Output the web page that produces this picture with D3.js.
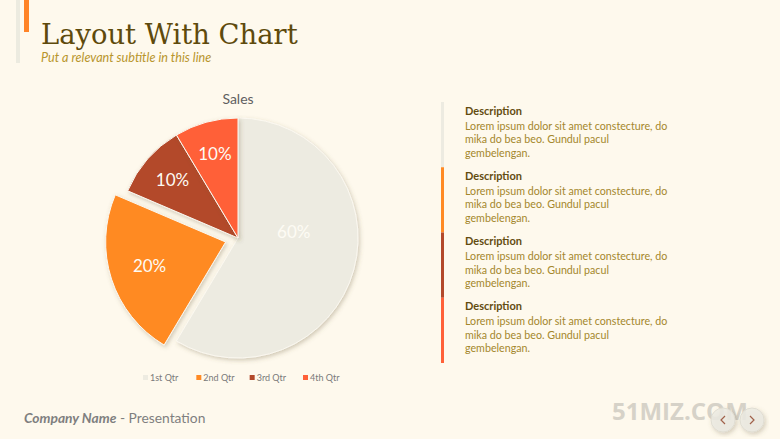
<!DOCTYPE html>
<html>
<head>
<meta charset="utf-8">
<script src="https://cdn.jsdelivr.net/npm/d3@7"></script>
<style>
  html, body { margin: 0; padding: 0; background: #fef9ed; }
  svg { display: block; }
</style>
</head>
<body>
<svg width="780" height="439"></svg>
<script>
const width = 780, height = 439;

const quarters = ["1st Qtr", "2nd Qtr", "3rd Qtr", "4th Qtr"];
const sales = [8.2, 3.2, 1.4, 1.2];
const salesLabels = ["60%", "20%", "10%", "10%"];
const sliceColors = ["#edebe1", "#ff8a24", "#b3492a", "#ff6139"];
const explodedQuarter = "2nd Qtr";

const descTitles = ["Description", "Description", "Description", "Description"];
const descLines = [
    "Lorem ipsum dolor sit amet constecture, do",
    "mika do bea beo. Gundul pacul",
    "gembelengan."
];

const svg = d3.select("svg");

svg.append("rect")
    .attr("width", width)
    .attr("height", height)
    .attr("fill", "#fef9ed");

const defs = svg.append("defs");
const shadow = defs.append("filter")
    .attr("id", "shadow")
    .attr("x", "-20%").attr("y", "-20%")
    .attr("width", "140%").attr("height", "140%");
shadow.append("feDropShadow")
    .attr("dx", 1.5)
    .attr("dy", 2)
    .attr("stdDeviation", 2)
    .attr("flood-color", "#6b5a3a")
    .attr("flood-opacity", 0.3);

// header accent bars
svg.append("rect").attr("x", 16).attr("y", 0).attr("width", 4).attr("height", 63).attr("fill", "#ecebe0");
svg.append("rect").attr("x", 24).attr("y", 0).attr("width", 5).attr("height", 32).attr("fill", "#ff8427");

svg.append("text")
    .attr("x", 41)
    .attr("y", 44)
    .attr("font-family", "'DejaVu Serif', serif")
    .attr("font-size", "27.4px")
    .attr("fill", "#5e4a0c")
    .text("Layout With Chart");

svg.append("text")
    .attr("x", 41)
    .attr("y", 62)
    .attr("font-family", "Lato, 'Open Sans', sans-serif")
    .attr("font-style", "italic")
    .attr("font-size", "12.6px")
    .attr("fill", "#b8952c")
    .text("Put a relevant subtitle in this line");

// chart
const cx = 238, cy = 238, radius = 120;

svg.append("text")
    .attr("x", cx)
    .attr("y", 104)
    .attr("text-anchor", "middle")
    .attr("font-family", "Lato, 'Open Sans', sans-serif")
    .attr("font-size", "14px")
    .attr("fill", "#5f5f5f")
    .text("Sales");

const pieData = d3.pie().sort(null).value(d => d.value)(
    quarters.map((q, i) => ({ name: q, value: sales[i], label: salesLabels[i], color: sliceColors[i] }))
);

const arc = d3.arc().innerRadius(0).outerRadius(radius);
const pieGroup = svg.append("g")
    .attr("transform", `translate(${cx},${cy})`);

const explode = 13;
function offset(d) {
    if (d.data.name !== explodedQuarter) return [0, 0];
    const a = (d.startAngle + d.endAngle) / 2;
    return [Math.sin(a) * explode, -Math.cos(a) * explode];
}

const slices = pieGroup.selectAll("g.slice")
    .data(pieData)
    .join("g")
    .attr("class", "slice")
    .attr("transform", d => `translate(${offset(d)})`);

slices.append("path")
    .attr("d", arc)
    .attr("fill", d => d.data.color)
    .attr("stroke", "#fbf8f0")
    .attr("stroke-width", 1)
    .attr("filter", "url(#shadow)");

slices.append("text")
    .attr("transform", d => {
        const span = d.endAngle - d.startAngle;
        const big = span > Math.PI;
        const a = big ? d.startAngle + span * 0.4 : (d.startAngle + d.endAngle) / 2;
        const r = big ? 56 : (d.data.name === explodedQuarter ? 80 : 87);
        return `translate(${Math.sin(a) * r},${-Math.cos(a) * r - 1})`;
    })
    .attr("text-anchor", "middle")
    .attr("dominant-baseline", "central")
    .attr("font-family", "Lato, 'Open Sans', sans-serif")
    .attr("font-size", "17px")
    .attr("fill", "#fdfbf4")
    .text(d => d.data.label);

// legend
const legendX = d3.scalePoint().domain(quarters).range([143, 303]);
const legend = svg.append("g").selectAll("g")
    .data(quarters.map((q, i) => ({ name: q, color: sliceColors[i] })))
    .join("g")
    .attr("transform", d => `translate(${legendX(d.name)},381)`);
legend.append("rect")
    .attr("x", 0).attr("y", -6)
    .attr("width", 5).attr("height", 5)
    .attr("fill", d => d.color);
legend.append("text")
    .attr("x", 7)
    .attr("y", 0)
    .attr("font-family", "Lato, 'Open Sans', sans-serif")
    .attr("font-size", "9px")
    .attr("fill", "#7a7a7a")
    .text(d => d.name);

// description blocks
const blockY = d3.scaleBand().domain(d3.range(descTitles.length)).range([102, 363]);
const blocks = svg.append("g").selectAll("g")
    .data(descTitles.map((t, i) => ({ title: t, color: sliceColors[i], i })))
    .join("g")
    .attr("transform", d => `translate(0,${blockY(d.i)})`);

blocks.append("rect")
    .attr("x", 441)
    .attr("y", 0)
    .attr("width", 3)
    .attr("height", blockY.bandwidth())
    .attr("fill", d => d.color);

blocks.append("text")
    .attr("x", 465)
    .attr("y", 12.5)
    .attr("font-family", "Lato, 'Open Sans', sans-serif")
    .attr("font-weight", "bold")
    .attr("font-size", "11px")
    .attr("fill", "#634c10")
    .text(d => d.title);

blocks.each(function() {
    d3.select(this).selectAll("text.line")
        .data(descLines)
        .join("text")
        .attr("class", "line")
        .attr("x", 465)
        .attr("y", (d, j) => 27.5 + j * 13.5)
        .attr("font-family", "Lato, 'Open Sans', sans-serif")
        .attr("font-size", "10.7px")
        .attr("fill", "#a4872c")
        .text(d => d);
});

// footer
const footer = svg.append("text")
    .attr("x", 24)
    .attr("y", 423)
    .attr("font-family", "Lato, 'Open Sans', sans-serif")
    .attr("font-size", "13.8px")
    .attr("fill", "#7f7f7f");
footer.append("tspan")
    .attr("font-weight", "bold")
    .attr("font-style", "italic")
    .text("Company Name");
footer.append("tspan").text(" - Presentation");

svg.append("text")
    .attr("x", 612)
    .attr("y", 420)
    .attr("font-family", "'Open Sans', Lato, sans-serif")
    .attr("font-weight", "bold")
    .attr("font-size", "24px")
    .attr("fill", "#d6d2c8")
    .text("51MIZ.COM");

const navs = [{ x: 723, dir: -1 }, { x: 752, dir: 1 }];
const nav = svg.append("g").selectAll("g")
    .data(navs)
    .join("g")
    .attr("transform", d => `translate(${d.x},420)`);
nav.append("circle")
    .attr("r", 12)
    .attr("fill", "#ecebe3")
    .attr("fill-opacity", 0.85)
    .attr("stroke", "#e0ddd2")
    .attr("filter", "url(#shadow)");
nav.append("path")
    .attr("d", d => `M${-2 * d.dir},-4 L${2 * d.dir},0 L${-2 * d.dir},4`)
    .attr("fill", "none")
    .attr("stroke", "#a0614a")
    .attr("stroke-width", 1.2);
</script>
</body>
</html>
